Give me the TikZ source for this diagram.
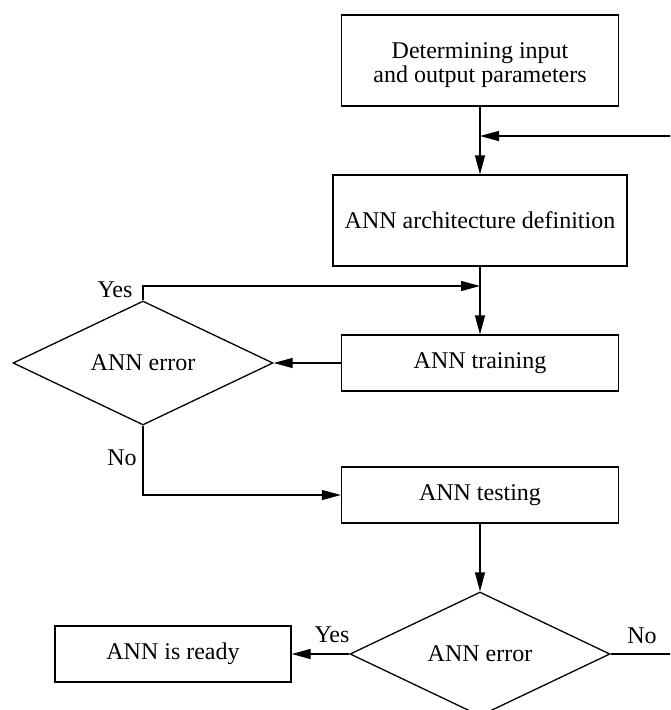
\documentclass[tikz,border=0pt]{standalone}
\usepackage{fontspec}
\setmainfont{Liberation Serif}
\usetikzlibrary{shapes.geometric,arrows.meta}

\tikzset{
  flow/.style={line width=1.3pt, draw=black},
  arr/.style={flow, -{Triangle[length=19pt,width=10pt]}},
  txt/.style={font=\fontsize{24}{24}\selectfont},
  stepbox/.style={draw=black, line width=1.3pt, rectangle, inner sep=0pt,
    align=center, txt},
  decision/.style={draw=black, line width=1.3pt, diamond, aspect=2.1,
    inner sep=0pt, minimum width=260pt, minimum height=124pt, txt},
  lbl/.style={txt, inner sep=0pt},
}

\begin{document}
\begin{tikzpicture}[x=1pt, y=-1pt]
  \useasboundingbox (0,0) rectangle (670,710);
  \clip (0,0) rectangle (670,710);

  % process boxes
  \node[stepbox, minimum width=277pt, minimum height=91pt,
        label={[lbl, align=center, yshift=-5pt]center:Determining input\\and output parameters}]
        (params) at (480,60.5) {};
  \node[stepbox, minimum width=294pt, minimum height=91pt] (arch) at (480,220.5)
    {ANN architecture definition};
  \node[stepbox, minimum width=277pt, minimum height=56pt] (train) at (480,363)
    {ANN training};
  \node[stepbox, minimum width=277pt, minimum height=56pt] (test) at (480,495)
    {ANN testing};
  \node[stepbox, minimum width=236pt, minimum height=56pt] (ready) at (173,654)
    {ANN is ready};

  % decisions
  \node[decision] (err1) at (143,363) {ANN error};
  \node[decision] (err2) at (480,654) {ANN error};

  % auxiliary points
  \coordinate (fbin)  at (690,136);
  \coordinate (fbend) at (480,136);
  \coordinate (yesend) at (480,286);
  \coordinate (noout) at (690,654);

  % connectors
  \draw[arr] (params.south) -- (arch.north);
  \draw[arr] (fbin) -- (fbend);
  \draw[arr] (arch.south) -- (train.north);
  \draw[arr] (err1.north) |- (yesend);
  \draw[arr] (train.west) -- (err1.east);
  \draw[arr] (err1.south) |- (test.west);
  \draw[arr] (test.south) -- (err2.north);
  \draw[arr] (err2.west) -- (ready.east);
  \draw[flow] (err2.east) -- (noout);

  % branch labels
  \node[lbl] (yes1) at (115,290) {Yes};
  \node[lbl] (no1)  at (122,458) {No};
  \node[lbl] (yes2) at (332,635) {Yes};
  \node[lbl] (no2)  at (642,636) {No};
\end{tikzpicture}
\end{document}
